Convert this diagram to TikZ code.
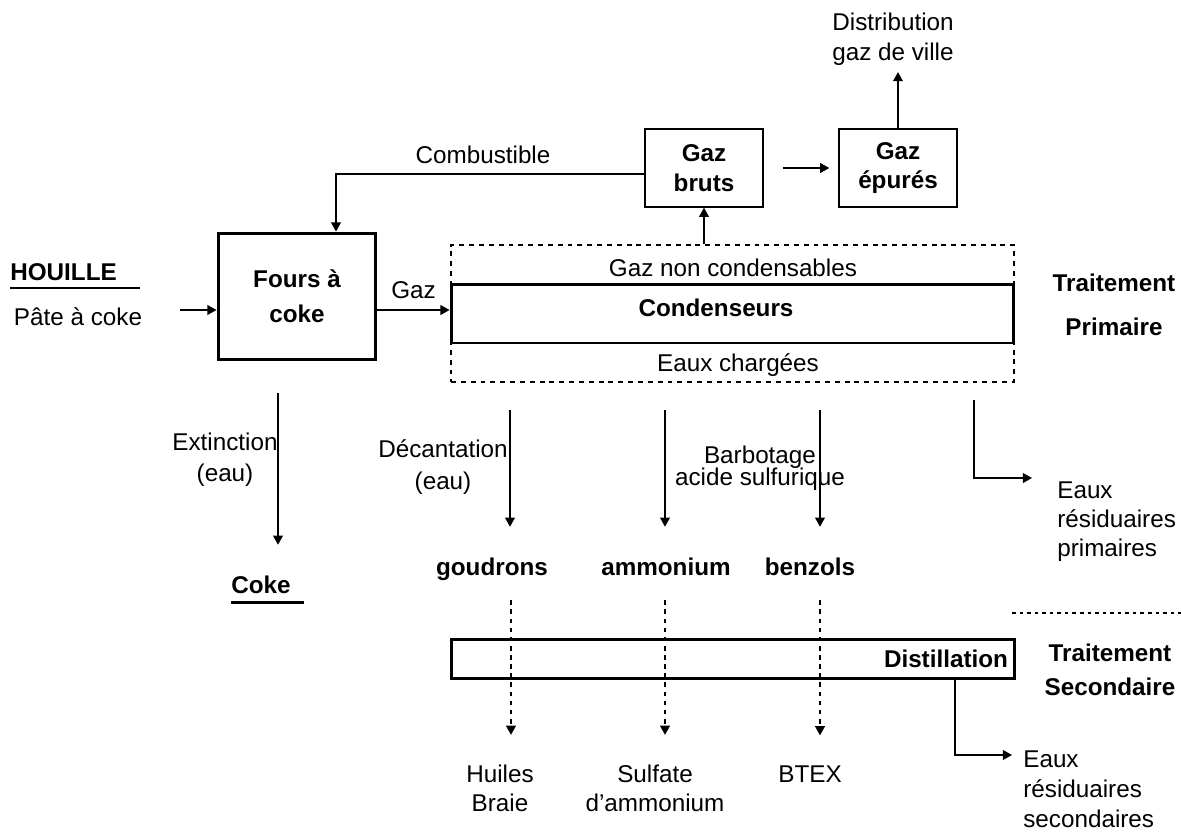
\documentclass[tikz,border=0pt]{standalone}
\usepackage{fontspec}
\setmainfont{Liberation Sans}
\usepackage{tikz}
\usetikzlibrary{arrows.meta,calc}
\newcommand{\diagfont}{\fontsize{13.8}{16.5}\selectfont}
\newcommand{\tightfont}{\fontsize{13.8}{12.5}\selectfont\lineskiplimit-10pt\relax}
\tikzset{
  every node/.style={font=\diagfont},
  lbl/.style={inner sep=0pt,align=center},
  bold/.style={lbl,font=\diagfont\bfseries},
  prod/.style={bold,text height=10pt,text depth=3pt},
  unit/.style={draw,line width=0.85pt,inner sep=0pt,align=center,
    font=\fontsize{13.8}{17}\selectfont\bfseries,
    minimum width=2.36cm,minimum height=1.56cm},
  mainbox/.style={draw,line width=1.7pt,inner sep=0pt},
  zone/.style={draw,line width=1.3pt,dash pattern=on 2.8pt off 2.8pt},
  arr/.style={-{Triangle[length=5.2pt,width=5.6pt]},line width=0.75pt},
  dotarr/.style={arr,dash pattern=on 2.6pt off 2.6pt},
  uline/.style={line width=1.6pt},
  sepline/.style={line width=0.75pt,dash pattern=on 2pt off 2.3pt}
}

\begin{document}
\begin{tikzpicture}[x=0.02cm,y=-0.02cm]
  \useasboundingbox (0,0) rectangle (1181,832);

  % Coal feed
  \node[bold,text depth=3pt,anchor=west] (houille) at (10,274.5) {HOUILLE};
  \draw[uline] ([yshift=-0.04cm]houille.south west) -- ++(130,0);
  \node[lbl] (pate) at (78,317) {Pâte à coke};

  % Coke ovens and condensers
  \node[mainbox,align=center,font=\fontsize{13.8}{19.9}\selectfont\bfseries,
    minimum width=3.16cm,minimum height=2.54cm] (fours) at (297,296.5) {Fours à\\coke};
  \node[zone,minimum width=11.26cm,minimum height=2.74cm] (primzone) at (732.5,313.5) {};
  \node[mainbox,minimum width=11.26cm,minimum height=1.18cm] (cond) at (732.5,313.5) {};
  \node[bold] (condtxt) at (716,308) {Condenseurs};
  \node[lbl] (gnc) at (733,268) {Gaz non condensables};
  \node[lbl] (eauxch) at (738,365.5) {Eaux chargées};

  \coordinate (feed) at (180,310);
  \draw[arr] (feed) -- (feed -| fours.west);
  \draw[arr] (fours.east |- feed) -- (cond.west |- feed)
    node[midway,above,inner sep=6pt] {Gaz};

  % Gas cleaning
  \node[unit] (bruts) at (704,168) {Gaz\\bruts};
  \node[unit] (epures) at (898,168) {Gaz\\épurés};
  \node[lbl,font=\fontsize{13.8}{17}\selectfont] (distrib) at (893,39.5) {Distribution\\gaz de ville};
  \draw[arr] (primzone.north -| bruts) -- (bruts.south);
  \draw[arr] ([xshift=0.38cm]bruts.east) -- ([xshift=-0.18cm]epures.west);
  \draw[arr,shorten >=0.12cm] (epures.north) -- (epures.north |- distrib.south);

  \coordinate (comb) at (336,174);
  \draw[arr] (bruts.west |- comb) -- (comb) -- (comb |- fours.north);
  \node[lbl] (combtxt) at (483,155) {Combustible};

  % Coke quench
  \node[prod] (coke) at (261,587.5) {Coke};
  \draw[uline] ([yshift=-0.06cm]coke.south west) -- ++(73,0);
  \node[lbl,font=\fontsize{13.8}{17.6}\selectfont] (ext) at (225,460) {Extinction\\(eau)};
  \coordinate (xc) at (278,0);
  \draw[arr,shorten <=0.64cm,shorten >=0.62cm] (fours.south -| xc) -- (xc |- coke.north);

  % Primary products
  \node[prod] (goud) at (492,569.5) {goudrons};
  \node[prod] (ammo) at (666,569.5) {ammonium};
  \node[prod] (benz) at (810,569.5) {benzols};
  \foreach \p/\x in {goud/510,ammo/665,benz/820}{
    \coordinate (x\p) at (\x,0);
    \draw[arr,shorten <=0.54cm,shorten >=0.62cm] (primzone.south -| x\p) -- (x\p |- \p.north);
  }
  \node[lbl,font=\fontsize{13.8}{18.2}\selectfont] (decant) at (443,467) {Décantation\\(eau)};
  \node[lbl,font=\tightfont] (barbo) at (760,468.5) {Barbotage\\acide sulfurique};

  % Primary waters
  \node[lbl,align=left,anchor=west,font=\fontsize{13.8}{16.4}\selectfont] (eprim) at (1057,521.5)
    {Eaux\\résiduaires\\primaires};
  \coordinate (xp) at (974,478);
  \draw[arr,shorten <=0.34cm,shorten >=0.5cm] (primzone.south -| xp) -- (xp) -- (xp -| eprim.west);
  \node[bold,font=\fontsize{13.8}{25}\selectfont\bfseries] (tprim) at (1114,305) {Traitement\\Primaire};

  % Secondary treatment
  \draw[sepline] (1012,613) -- (1181,613);
  \node[mainbox,minimum width=11.28cm,minimum height=0.78cm,text width=11cm,align=right,
    font=\diagfont\bfseries] (dist) at (733,659) {Distillation};
  \node[bold,font=\fontsize{13.8}{19.3}\selectfont\bfseries] (tsec) at (1110,670) {Traitement\\Secondaire};

  \node[lbl,font=\fontsize{13.8}{16.4}\selectfont] (huiles) at (500,788.5) {Huiles\\Braie};
  \node[lbl,font=\fontsize{13.8}{16.4}\selectfont] (sulf) at (655,788.5) {Sulfate\\d’ammonium};
  \node[lbl] (btex) at (810,774) {BTEX};
  \foreach \p/\q/\x in {goud/huiles/511,ammo/sulf/665,benz/btex/820}{
    \coordinate (d\q) at (\x,0);
    \draw[dotarr,shorten <=0.38cm,shorten >=0.6cm] (\p.south -| d\q) -- (d\q |- \q.north);
  }

  % Secondary waters
  \node[lbl,align=left,anchor=west,font=\fontsize{13.8}{17}\selectfont] (esec) at (1023,789)
    {Eaux\\résiduaires\\secondaires};
  \coordinate (xs) at (955,755);
  \draw[arr,shorten >=0.22cm] (dist.south -| xs) -- (xs) -- (xs -| esec.west);
\end{tikzpicture}
\end{document}
